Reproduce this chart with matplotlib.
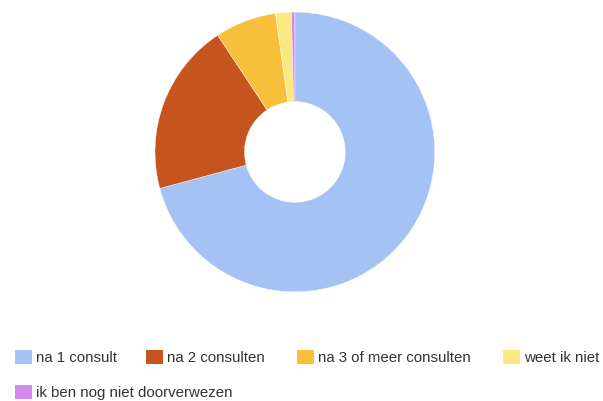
import matplotlib.pyplot as plt
from matplotlib.patches import Rectangle

plt.rcParams['font.family'] = ['Liberation Sans', 'DejaVu Sans']

# Data
labels = ['na 1 consult', 'na 2 consulten', 'na 3 of meer consulten', 'weet ik niet',
          'ik ben nog niet doorverwezen']
values = [70.8, 19.9, 7.1, 1.8, 0.4]
colors = ['#a4c2f4', '#c5541f', '#f8c03a', '#fbe980', '#d18bef']

fig = plt.figure(figsize=(6.03, 4.02), dpi=100)

# Donut
ax = fig.add_axes([0.257, 0.271, 0.464, 0.697])
ax.pie(values, colors=colors, startangle=90, counterclock=False,
       wedgeprops=dict(width=0.64, edgecolor='white', linewidth=0.3))
ax.set_xlim(-1, 1)
ax.set_ylim(-1, 1)
ax.set_aspect('equal')

# Legend (drawn by hand, two rows)
legend_x = [15, 146, 297, 503, 15]
legend_y = [358, 358, 358, 358, 393]
W, H = 603, 402
for lab, col, x, y in zip(labels, colors, legend_x, legend_y):
    fig.patches.append(Rectangle((x / W, (H - y - 7) / H), 17 / W, 14 / H,
                                 transform=fig.transFigure, facecolor=col,
                                 edgecolor='none'))
    fig.text((x + 21) / W, (H - y) / H, lab, fontsize=10.8, color='#333333',
             va='center', ha='left')

fig.savefig('out.png', dpi=100)
